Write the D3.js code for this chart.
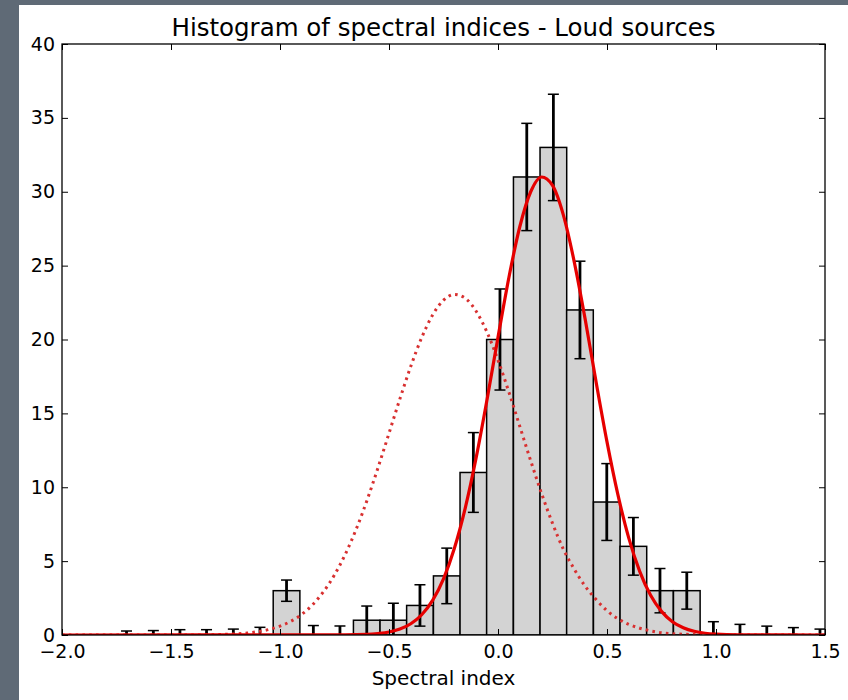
<!DOCTYPE html>
<html>
<head>
<meta charset="utf-8">
<script src="https://cdn.jsdelivr.net/npm/d3@7"></script>
<style>
  body { margin: 0; background: #5f6a76; }
  text { font-family: "DejaVu Sans", sans-serif; fill: #000; }
</style>
</head>
<body>
<div id="chart"></div>
<script>
// histogram bins (centres), counts and error bar half-widths
const binWidth = 0.1223;
const binCenters = [-1.704, -1.581, -1.459, -1.337, -1.214, -1.092, -0.970, -0.847, -0.725,
  -0.602, -0.480, -0.358, -0.235, -0.113, 0.009, 0.132, 0.254, 0.376, 0.499, 0.621,
  0.743, 0.866, 0.988, 1.110, 1.233, 1.355, 1.477];
const counts = [0, 0, 0, 0, 0, 0, 3, 0, 0, 1, 1, 2, 4, 11, 20, 31, 33, 22, 9, 6, 3, 3, 0, 0, 0, 0, 0];
const errors = [0.27, 0.30, 0.36, 0.36, 0.40, 0.52, 0.72, 0.64, 0.61, 0.96, 1.15, 1.4, 1.88, 2.7,
  3.42, 3.63, 3.6, 3.3, 2.6, 1.95, 1.5, 1.25, 0.9, 0.72, 0.6, 0.5, 0.4];

// fitted curves
const solidX = [-2.0, -0.7, -0.6, -0.55, -0.5, -0.45, -0.4, -0.35, -0.3, -0.25, -0.2, -0.15, -0.1, -0.05,
  0, 0.05, 0.1, 0.15, 0.2, 0.25, 0.3, 0.35, 0.4, 0.45, 0.5, 0.55, 0.6, 0.65, 0.7, 0.75,
  0.8, 0.85, 0.9, 0.95, 1.0, 1.1, 1.5];
const solidY = [0, 0.01, 0.04, 0.1, 0.2, 0.4, 0.76, 1.37, 2.34, 3.8, 5.87, 8.61, 12.02, 15.96,
  20.15, 24.2, 27.63, 30.0, 31.0, 30.43, 28.42, 25.24, 21.36, 17.12, 13.07, 9.5, 6.56, 4.31, 2.69, 1.6,
  0.9, 0.49, 0.25, 0.12, 0.056, 0.01, 0];
const dottedX = [-2.0, -1.4, -1.3, -1.25, -1.2, -1.15, -1.1, -1.05, -1.0, -0.95, -0.9, -0.85, -0.8, -0.75,
  -0.7, -0.65, -0.6, -0.55, -0.5, -0.45, -0.4, -0.35, -0.3, -0.25, -0.2, -0.15, -0.1, -0.05,
  0, 0.05, 0.1, 0.15, 0.2, 0.25, 0.3, 0.35, 0.4, 0.45, 0.5, 0.55, 0.6, 0.65, 0.7, 0.75,
  0.8, 0.9, 1.0, 1.5];
const dottedY = [0, 0.006, 0.024, 0.044, 0.078, 0.136, 0.229, 0.376, 0.6, 0.93, 1.4, 2.06, 2.94, 4.07,
  5.48, 7.18, 9.15, 11.34, 13.65, 15.98, 18.19, 20.13, 21.66, 22.66, 23.05, 22.79, 21.91, 20.48,
  18.6, 16.44, 14.12, 11.79, 9.57, 7.56, 5.8, 4.45, 3.3, 2.4, 1.65, 1.1, 0.72, 0.46, 0.28, 0.15,
  0.087, 0.027, 0.007, 0];

const xTicks = [-2.0, -1.5, -1.0, -0.5, 0.0, 0.5, 1.0, 1.5];
const yTicks = [0, 5, 10, 15, 20, 25, 30, 35, 40];

const W = 848, H = 700;
const margin = {top: 44, right: 23, bottom: 65, left: 62};
const width = W - margin.left - margin.right;
const height = H - margin.top - margin.bottom;

const svg = d3.select("#chart").append("svg")
    .attr("width", W)
    .attr("height", H);

// white figure area over the grey page
svg.append("rect")
    .attr("x", 19).attr("y", 5)
    .attr("width", W - 19).attr("height", H - 5)
    .attr("fill", "#fff");

const g = svg.append("g")
    .attr("transform", `translate(${margin.left},${margin.top})`);

const x = d3.scaleLinear().domain([-2, 1.5]).range([0, width]);
const y = d3.scaleLinear().domain([0, 40]).range([height, 0]);

g.append("clipPath").attr("id", "clip")
  .append("rect").attr("width", width).attr("height", height);

const plot = g.append("g").attr("clip-path", "url(#clip)");

const bins = binCenters.map((c, i) => ({c: c, n: counts[i], e: errors[i]}));

// bars
plot.selectAll(".bar")
  .data(bins.filter(d => d.n > 0))
  .enter().append("rect")
    .attr("class", "bar")
    .attr("x", d => x(d.c - binWidth / 2))
    .attr("width", d => x(d.c + binWidth / 2) - x(d.c - binWidth / 2))
    .attr("y", d => y(d.n))
    .attr("height", d => y(0) - y(d.n))
    .attr("fill", "#d3d3d3")
    .attr("stroke", "#000")
    .attr("stroke-width", 1.5);

// error bars
const eb = plot.selectAll(".err")
  .data(bins)
  .enter().append("g")
    .attr("class", "err");
eb.append("line")
    .attr("x1", d => x(d.c)).attr("x2", d => x(d.c))
    .attr("y1", d => y(d.n - d.e)).attr("y2", d => y(d.n + d.e))
    .attr("stroke", "#000").attr("stroke-width", 2.8);
[-1, 1].forEach(s => {
  eb.append("line")
      .attr("x1", d => x(d.c) - 5.5).attr("x2", d => x(d.c) + 5.5)
      .attr("y1", d => y(d.n + s * d.e)).attr("y2", d => y(d.n + s * d.e))
      .attr("stroke", "#000").attr("stroke-width", 1.5);
});

const line = d3.line()
    .x(d => x(d[0]))
    .y(d => y(d[1]))
    .curve(d3.curveMonotoneX);

plot.append("path")
    .datum(dottedX.map((v, i) => [v, dottedY[i]]))
    .attr("d", line)
    .attr("fill", "none")
    .attr("stroke", "#d83030")
    .attr("stroke-width", 3)
    .attr("stroke-dasharray", "2.6,4.2");

plot.append("path")
    .datum(solidX.map((v, i) => [v, solidY[i]]))
    .attr("d", line)
    .attr("fill", "none")
    .attr("stroke", "#e60000")
    .attr("stroke-width", 3.2);

// axes, ticks pointing inwards on all four sides
const fmtX = d3.format(".1f");
const xAxis = g.append("g")
    .attr("transform", `translate(0,${height})`)
    .call(d3.axisBottom(x).tickValues(xTicks).tickFormat(fmtX)
      .tickSizeInner(-6).tickSizeOuter(0).tickPadding(10));
const yAxis = g.append("g")
    .call(d3.axisLeft(y).tickValues(yTicks).tickFormat(d3.format("d"))
      .tickSizeInner(-6).tickSizeOuter(0).tickPadding(7));
g.append("g")
    .call(d3.axisTop(x).tickValues(xTicks).tickFormat("")
      .tickSizeInner(-6).tickSizeOuter(0));
g.append("g")
    .attr("transform", `translate(${width},0)`)
    .call(d3.axisRight(y).tickValues(yTicks).tickFormat("")
      .tickSizeInner(-6).tickSizeOuter(0));

g.selectAll(".domain").remove();
g.selectAll(".tick line").attr("stroke", "#000").attr("stroke-width", 1);
xAxis.selectAll("text").style("font-size", "19px").attr("fill", "#000");
yAxis.selectAll("text").style("font-size", "19px").attr("fill", "#000");

// frame
g.append("rect")
    .attr("width", width).attr("height", height)
    .attr("fill", "none")
    .attr("stroke", "#000")
    .attr("stroke-width", 1.3);

// title and label
svg.append("text")
    .attr("x", margin.left + width / 2)
    .attr("y", 36)
    .attr("text-anchor", "middle")
    .style("font-size", "24.5px")
    .text("Histogram of spectral indices - Loud sources");

svg.append("text")
    .attr("x", margin.left + width / 2)
    .attr("y", 685)
    .attr("text-anchor", "middle")
    .style("font-size", "20px")
    .text("Spectral index");
</script>
</body>
</html>
